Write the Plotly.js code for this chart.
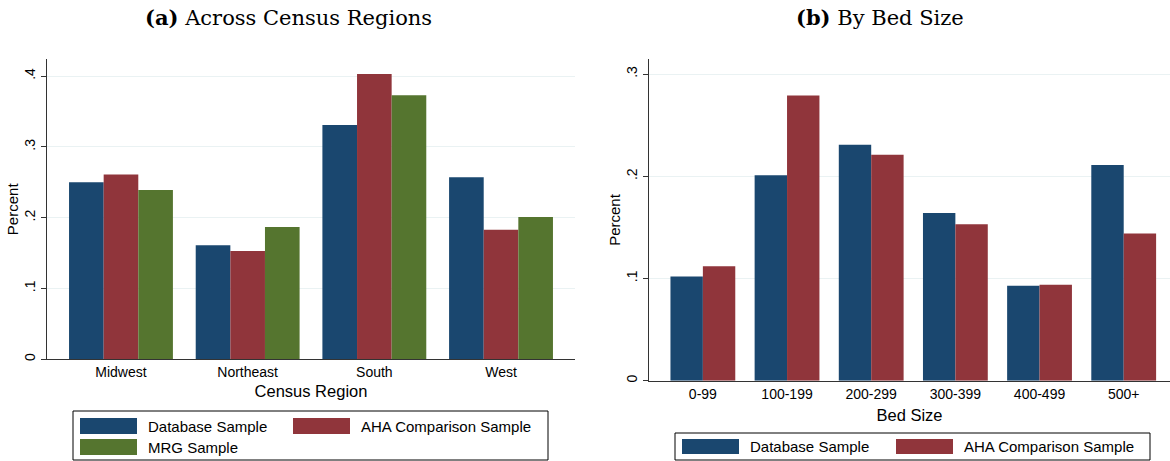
<!DOCTYPE html>
<html><head><meta charset="utf-8">
<script src="https://cdn.plot.ly/plotly-3.0.1.min.js"></script>
<style>html,body{margin:0;padding:0;background:#fff;}#chart{width:1170px;height:461px;}</style>
</head><body><div id="chart"></div>
<script>
// ---- data ----
const regions = ["Midwest", "Northeast", "South", "West"];
const regionDatabase = [0.250, 0.161, 0.331, 0.257];
const regionAHA = [0.261, 0.153, 0.403, 0.183];
const regionMRG = [0.239, 0.187, 0.373, 0.201];

const bedSizes = ["0-99", "100-199", "200-299", "300-399", "400-499", "500+"];
const bedDatabase = [0.102, 0.201, 0.231, 0.164, 0.093, 0.211];
const bedAHA = [0.112, 0.279, 0.221, 0.153, 0.094, 0.144];

const seriesNames = ["Database Sample", "AHA Comparison Sample", "MRG Sample"];
const seriesColors = ["#1a476f", "#90353b", "#55752f"];

const regionTickVals = [0, 0.1, 0.2, 0.3, 0.4];
const regionTickText = ["0", ".1", ".2", ".3", ".4"];
const bedTickVals = [0, 0.1, 0.2, 0.3];
const bedTickText = ["0", ".1", ".2", ".3"];

// ---- layout helpers ----
const W = 1170, H = 461;
const px = x => x / W;
const py = y => 1 - y / H;
const FONT = "Liberation Sans, Arial, sans-serif";

// region panel: 3 bars per group
const rW = 0.82 / 3;
const regionSeries = [regionDatabase, regionAHA, regionMRG];
const traces = regionSeries.map((vals, i) => ({
  type: "bar", x: regions, y: vals, xaxis: "x", yaxis: "y",
  name: seriesNames[i], marker: {color: seriesColors[i], line: {width: 0}},
  width: rW, offset: -0.41 + i * rW, showlegend: false, hoverinfo: "x+y"
}));
// bed panel: 2 bars per group
const bW = 0.77 / 2;
[bedDatabase, bedAHA].forEach((vals, i) => traces.push({
  type: "bar", x: bedSizes, y: vals, xaxis: "x2", yaxis: "y2",
  name: seriesNames[i], marker: {color: seriesColors[i], line: {width: 0}},
  width: bW, offset: -0.385 + i * bW, showlegend: false, hoverinfo: "x+y"
}));

const axisLine = "#333333";
const grid = "#eaf2f3";
const tickFont = {family: FONT, size: 14, color: "#000"};

function yAxis(domain, range, vals, text) {
  return {
    domain, range, tickvals: vals, ticktext: text, tickangle: -90,
    ticks: "outside", ticklen: 5, tickcolor: axisLine, tickwidth: 1,
    showline: true, linecolor: axisLine, linewidth: 1,
    showgrid: true, gridcolor: grid, gridwidth: 1, zeroline: false,
    tickfont: tickFont, fixedrange: true,
    title: {text: "Percent", font: {family: FONT, size: 15, color: "#000"}, standoff: 0}
  };
}
function xAxis(domain, range, title, anchor, standoff) {
  return {
    domain, range, type: "category", anchor,
    showline: true, linecolor: axisLine, linewidth: 1, ticks: "",
    showgrid: false, zeroline: false, tickfont: tickFont, fixedrange: true,
    title: {text: title, font: {family: FONT, size: 16.5, color: "#000"}, standoff}
  };
}

const shapes = [];
const annotations = [];
function legendBox(x0, y0, x1, y1) {
  shapes.push({type: "rect", xref: "paper", yref: "paper",
    x0: px(x0), x1: px(x1), y0: py(y1), y1: py(y0),
    line: {color: "#000", width: 1}, fillcolor: "rgba(0,0,0,0)"});
}
function legendItem(sx, sy, sw, sh, idx) {
  shapes.push({type: "rect", xref: "paper", yref: "paper",
    x0: px(sx), x1: px(sx + sw), y0: py(sy + sh), y1: py(sy),
    line: {width: 0}, fillcolor: seriesColors[idx]});
  annotations.push({xref: "paper", yref: "paper", x: px(sx + sw + 9), y: py(sy + sh / 2),
    xanchor: "left", yanchor: "middle", showarrow: false, text: seriesNames[idx],
    font: {family: FONT, size: 15, color: "#000"}});
}
// left legend
legendBox(73, 411, 548, 460);
legendItem(80, 418, 57, 16, 0);
legendItem(293, 418, 57, 16, 1);
legendItem(80, 439, 57, 16, 2);
// right legend
legendBox(675, 433, 1150, 460);
legendItem(682, 439, 57, 15, 0);
legendItem(896, 439, 57, 15, 1);

// panel titles
const TFONT = {family: "DejaVu Serif, serif", size: 21, color: "#000"};
annotations.push({xref: "paper", yref: "paper", x: px(288), y: py(17), xanchor: "center", yanchor: "middle",
  showarrow: false, text: "<b>(a)</b> Across Census Regions", font: TFONT});
annotations.push({xref: "paper", yref: "paper", x: px(880), y: py(17), xanchor: "center", yanchor: "middle",
  showarrow: false, text: "<b>(b)</b> By Bed Size", font: TFONT});

const layout = {
  width: W, height: H, margin: {l: 0, r: 0, t: 0, b: 0},
  paper_bgcolor: "#fff", plot_bgcolor: "#fff",
  barmode: "overlay", showlegend: false,
  xaxis: xAxis([px(47), px(575)], [-0.584, 3.584], "Census Region", "y", 6),
  yaxis: yAxis([py(359.3), py(59.3)], [0, 0.4237], regionTickVals, regionTickText),
  xaxis2: xAxis([px(649), 1], [-0.64, 5.55], "Bed Size", "y2", 8),
  yaxis2: Object.assign(yAxis([py(380.7), py(59.3)], [0, 0.3145], bedTickVals, bedTickText), {anchor: "x2"}),
  shapes, annotations
};
layout.yaxis.anchor = "x";

Plotly.newPlot("chart", traces, layout, {staticPlot: true, displayModeBar: false});
</script>
</body></html>
